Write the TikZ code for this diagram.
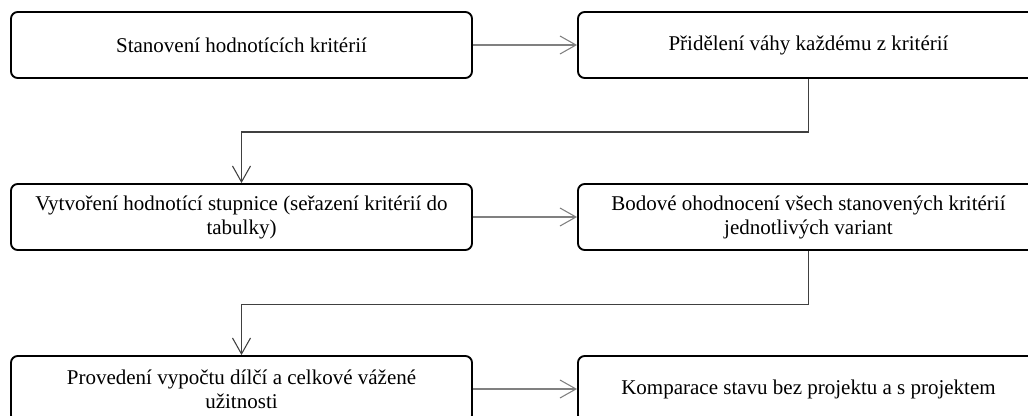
\documentclass[tikz,border=0pt]{standalone}
\usepackage{fontspec}
\setmainfont{Liberation Serif}
\usetikzlibrary{arrows.meta}

\begin{document}
\begin{tikzpicture}[x=0.75pt,y=-0.75pt,
    krok/.style={draw,line width=1.4pt,rounded corners=5pt,
      minimum width=345.75pt,minimum height=49.5pt,inner sep=0pt,
      align=center,font=\fontsize{15.75}{18}\selectfont},
    sipka/.style={draw=black!50,line width=1.1pt,
      -{Straight Barb[length=12pt,width=13.5pt,line width=0.8pt]}},
    spoj/.style={draw=black!75,line width=0.9pt,
      -{Straight Barb[length=12pt,width=13.5pt,line width=0.8pt]}}]
  \useasboundingbox (0,0) rectangle (1028,416);
  \clip (0,0) rectangle (1028,416);

  \node (stanoveni) [krok] at (241.5,45) {Stanovení hodnotících kritérií};
  \node (prideleni) [krok] at (808.5,45) {Přidělení váhy každému z kritérií};
  \node (stupnice) [krok] at (241.5,217)
    {Vytvoření hodnotící stupnice (seřazení kritérií do\\tabulky)};
  \node (bodove) [krok] at (808.5,217)
    {Bodové ohodnocení všech stanovených kritérií\\jednotlivých variant};
  \node (vypocet) [krok] at (241.5,389)
    {Provedení vypočtu dílčí a celkové vážené\\užitnosti};
  \node (komparace) [krok] at (808.5,389)
    {Komparace stavu bez projektu a s projektem};

  \draw[sipka] (stanoveni) -- (prideleni);
  \draw[spoj] (prideleni.south) -- ++(0,53) -| (stupnice.north);
  \draw[sipka] (stupnice) -- (bodove);
  \draw[spoj] (bodove.south) -- ++(0,53.5) -| (vypocet.north);
  \draw[sipka] (vypocet) -- (komparace);
\end{tikzpicture}
\end{document}
